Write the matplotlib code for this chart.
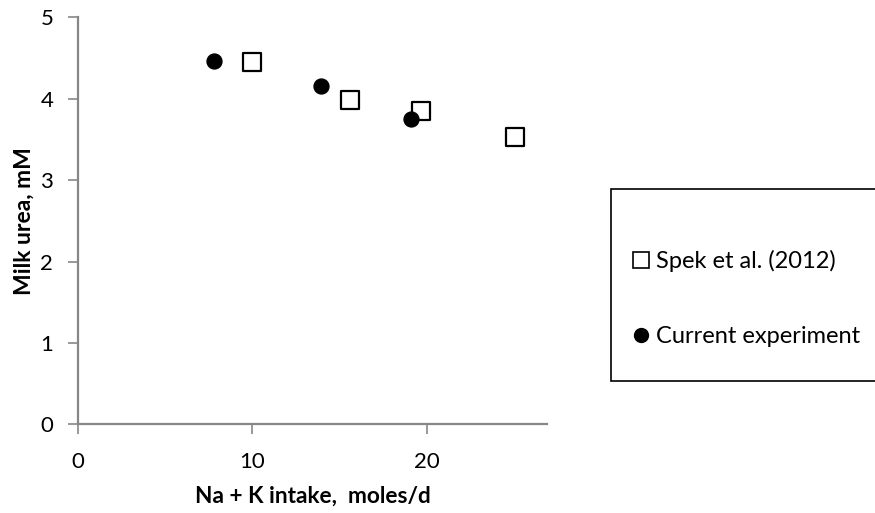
import matplotlib.pyplot as plt
from matplotlib.patches import Rectangle
from matplotlib.lines import Line2D

# data
spek_x = [9.97, 15.58, 19.67, 25.09]
spek_y = [4.45, 3.99, 3.85, 3.53]
curr_x = [7.77, 13.95, 19.12]
curr_y = [4.47, 4.16, 3.75]

x_ticks = [0, 10, 20]
y_ticks = [0, 1, 2, 3, 4, 5]

plt.rcParams["font.family"] = ["Lato", "DejaVu Sans"]
AXIS_GRAY = "#878787"

fig = plt.figure(figsize=(8.75, 5.13), dpi=100)
ax = fig.add_axes([0.0895, 0.173, 0.5353, 0.793])

ax.scatter(spek_x, spek_y, marker="s", s=165, facecolors="white",
           edgecolors="black", linewidths=1.6, zorder=3)
ax.scatter(curr_x, curr_y, marker="o", s=115, color="black", zorder=4)

ax.set_xlim(0, 26.9)
ax.set_ylim(0, 5)
ax.set_xticks(x_ticks)
ax.set_yticks(y_ticks)

for side in ["top", "right"]:
    ax.spines[side].set_visible(False)
for side in ["left", "bottom"]:
    ax.spines[side].set_color(AXIS_GRAY)
    ax.spines[side].set_linewidth(1.6)
ax.tick_params(axis="both", colors=AXIS_GRAY, length=7, width=1.2,
               labelsize=16, labelcolor="black", direction="out")
ax.tick_params(axis="x", pad=13)
ax.tick_params(axis="y", pad=11)

ax.set_xlabel("Na + K intake,  moles/d", fontsize=16.3, fontweight="bold", labelpad=10)
ax.set_ylabel("Milk urea, mM", fontsize=16.5, fontweight="bold", labelpad=4)

# legend box, runs off the right edge like in the reference
box = Rectangle((0.698, 0.2573), 0.35, 0.3743, transform=fig.transFigure,
                facecolor="white", edgecolor="black", linewidth=1.2,
                clip_on=False)
fig.patches.append(box)

handles = [
    Line2D([], [], marker="s", linestyle="none", markersize=11.5,
           markerfacecolor="white", markeredgecolor="black", markeredgewidth=1.2),
    Line2D([], [], marker="o", linestyle="none", markersize=10,
           color="black"),
]
labels = ["Spek et al. (2012)", "Current experiment"]
fig.legend(handles, labels, loc="upper left", bbox_to_anchor=(0.725, 0.513),
           frameon=False, fontsize=17, handlelength=0.6, handletextpad=0.3,
           labelspacing=2.3, borderaxespad=0, borderpad=0)

fig.savefig("out.png", dpi=100)
